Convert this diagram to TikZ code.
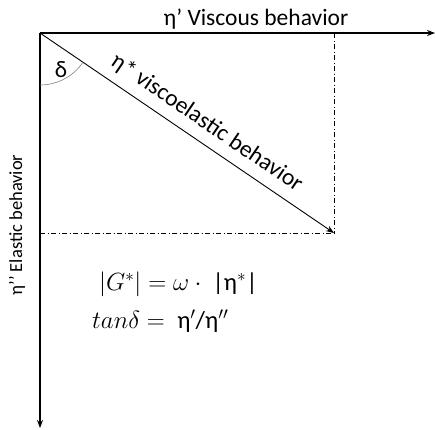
\documentclass[tikz,border=0pt]{standalone}
\usepackage{fontspec}
\setmainfont{Carlito}
\usetikzlibrary{arrows.meta}
\begin{document}
\begin{tikzpicture}[x=1pt,y=1pt,
  axis/.style={line width=1.8pt,-{Stealth[length=8pt,width=6pt]}},
  guide/.style={line width=0.7pt,dash pattern=on 5pt off 2.5pt on 1pt off 2.5pt},
  lbl/.style={font=\fontsize{23.5}{26}\selectfont,inner sep=0pt},
  eqn/.style={font=\fontsize{24.5}{27}\selectfont,inner sep=0pt,anchor=west}]
\useasboundingbox (0,0) rectangle (435,-429);
\coordinate (O) at (40,-33);
\coordinate (X) at (435,-33);
\coordinate (Y) at (40,-428);
\coordinate (P) at (334,-233);
\coordinate (Px) at (334,-33);
\coordinate (Py) at (40,-233);
\draw[guide] (Px) -- (P);
\draw[guide] (Py) -- (P);
\draw[axis] (O) -- (X);
\draw[axis] (O) -- (Y);
\draw[line width=0.9pt,-{Stealth[length=8pt,width=6pt]}] (O) -- (P);
\draw[line width=0.6pt,gray] (40,-85) arc[start angle=-90,end angle=-34.3,radius=52];
\node[lbl] (vis) at (256,-19) {η’ Viscous behavior};
\node[lbl,font=\fontsize{18.5}{21}\selectfont,rotate=90] (ela) at (17,-225) {η’’ Elastic behavior};
\node[lbl] (del) at (61,-70) {δ};
\node[lbl,rotate=-34.3,anchor=south] (ve) at (201,-132) {η* viscoelastic behavior};
\node[eqn] (eq1) at (99,-284) {$|G^*| = \omega\cdot{}$\ |η$^*$|};
\node[eqn] (eq2) at (92,-321) {$tan\delta = {}$\ η$'$/η$''$};
\end{tikzpicture}
\end{document}
